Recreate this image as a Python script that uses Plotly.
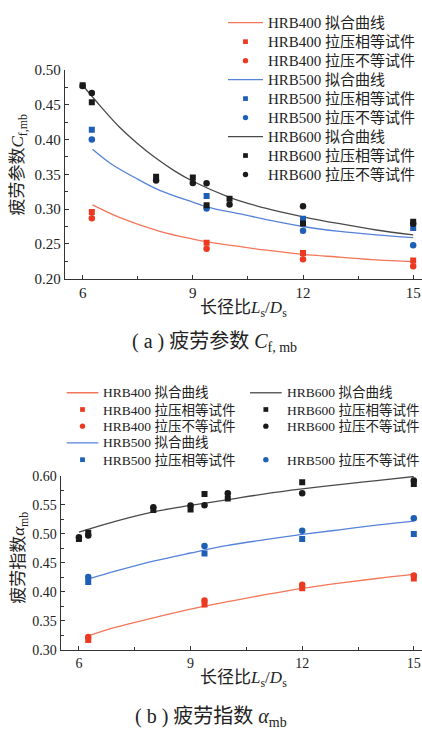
import plotly.graph_objects as go

W, H = 422, 738

# ---------------- data: (a) fatigue parameter C_f,mb ----------------
x_400_500 = [6.25, 9.375, 12, 15]
c400_eq = [0.296, 0.2515, 0.237, 0.226]
c400_ne = [0.287, 0.243, 0.228, 0.218]
c500_eq = [0.414, 0.319, 0.286, 0.273]
c500_ne = [0.400, 0.301, 0.269, 0.248]
x_600 = [6, 6.25, 8, 9, 9.375, 10, 12, 15]
c600_eq = [0.478, 0.4535, 0.3465, 0.3456, 0.3056, 0.315, 0.2795, 0.282]
c600_ne = [0.477, 0.467, 0.341, 0.3376, 0.337, 0.3066, 0.304, 0.279]

# fitted curves
fa400_x = [6.27, 7.0, 8.1, 9.0, 9.4, 10.3, 11, 12, 13, 14, 15]
fa400_y = [0.306, 0.288, 0.268, 0.257, 0.253, 0.246, 0.241, 0.235, 0.231, 0.227, 0.2245]
fa500_x = [6.27, 6.75, 7.5, 8.1, 9.0, 9.4, 10.3, 11, 12, 13, 14, 15]
fa500_y = [0.386, 0.366, 0.343, 0.327, 0.310, 0.303, 0.293, 0.285, 0.275, 0.268, 0.263, 0.259]
fa600_x = [6.0, 6.5, 7.0, 7.5, 8.0, 8.5, 9.0, 10.0, 11.0, 12.0, 13.0, 14.0, 15.0]
fa600_y = [0.478, 0.447, 0.418, 0.394, 0.373, 0.355, 0.340, 0.317, 0.301, 0.289, 0.279, 0.270, 0.263]

# ---------------- data: (b) fatigue exponent alpha_mb ----------------
a400_eq = [0.317, 0.378, 0.406, 0.423]
a400_ne = [0.322, 0.385, 0.412, 0.428]
a500_eq = [0.417, 0.466, 0.491, 0.500]
a500_ne = [0.4255, 0.479, 0.5055, 0.527]
a600_eq = [0.491, 0.502, 0.541, 0.542, 0.569, 0.561, 0.589, 0.586]
a600_ne = [0.494, 0.497, 0.546, 0.549, 0.5495, 0.570, 0.570, 0.592]

fb400_x = [6.25, 7, 8, 9, 10, 11, 12, 13, 14, 15]
fb400_y = [0.324, 0.339, 0.355, 0.370, 0.383, 0.395, 0.406, 0.415, 0.423, 0.430]
fb500_x = [6.25, 7, 8, 9, 10, 11, 12, 13, 14, 15]
fb500_y = [0.422, 0.436, 0.453, 0.467, 0.480, 0.490, 0.499, 0.507, 0.515, 0.522]
fb600_x = [6.0, 7, 8, 9, 10, 11, 12, 13, 14, 15]
fb600_y = [0.503, 0.522, 0.538, 0.549, 0.559, 0.569, 0.5775, 0.585, 0.592, 0.599]

xticks = [6, 9, 12, 15]

RED_M, RED_L = "#ec3a22", "#f27658"
BLU_M, BLU_L = "#1c5fb4", "#5683d8"
BLK_M, BLK_L = "#1a1a1a", "#4a4a4a"

SERIF = "Liberation Serif, Times New Roman, Noto Sans CJK SC, serif"
CJK = "Liberation Serif, Noto Sans CJK SC, serif"


def px(x):
    return x / W


def py(y):
    return 1 - y / H


fig = go.Figure()


def add_fit(x, y, color, xa, ya):
    fig.add_trace(go.Scatter(x=x, y=y, mode="lines", line=dict(color=color, width=1.3, shape="spline"),
                             xaxis=xa, yaxis=ya, showlegend=False, hoverinfo="skip"))


def add_pts(x, y, color, symbol, xa, ya):
    fig.add_trace(go.Scatter(x=x, y=y, mode="markers",
                             marker=dict(color=color, symbol=symbol, size=6.5 if symbol == "circle" else 6),
                             xaxis=xa, yaxis=ya, showlegend=False))


# (a)
add_fit(fa400_x, fa400_y, RED_L, "x", "y")
add_fit(fa500_x, fa500_y, BLU_L, "x", "y")
add_fit(fa600_x, fa600_y, BLK_L, "x", "y")
add_pts(x_400_500, c400_eq, RED_M, "square", "x", "y")
add_pts(x_400_500, c400_ne, RED_M, "circle", "x", "y")
add_pts(x_400_500, c500_eq, BLU_M, "square", "x", "y")
add_pts(x_400_500, c500_ne, BLU_M, "circle", "x", "y")
add_pts(x_600, c600_ne, BLK_M, "circle", "x", "y")
add_pts(x_600, c600_eq, BLK_M, "square", "x", "y")

# (b)
add_fit(fb400_x, fb400_y, RED_L, "x2", "y2")
add_fit(fb500_x, fb500_y, BLU_L, "x2", "y2")
add_fit(fb600_x, fb600_y, BLK_L, "x2", "y2")
add_pts(x_400_500, a400_eq, RED_M, "square", "x2", "y2")
add_pts(x_400_500, a400_ne, RED_M, "circle", "x2", "y2")
add_pts(x_400_500, a500_eq, BLU_M, "square", "x2", "y2")
add_pts(x_400_500, a500_ne, BLU_M, "circle", "x2", "y2")
add_pts(x_600, a600_ne, BLK_M, "circle", "x2", "y2")
add_pts(x_600, a600_eq, BLK_M, "square", "x2", "y2")

axis_common = dict(showline=True, linecolor="#333", linewidth=1.3, showgrid=False, zeroline=False,
                   ticks="inside", ticklen=4, tickwidth=1, tickcolor="#333")
minor_x = dict(ticks="inside", ticklen=3, tickwidth=1, tickcolor="#333", dtick=1.5, tick0=6)

fig.update_layout(
    width=W, height=H, margin=dict(l=0, r=0, t=0, b=0, pad=0),
    paper_bgcolor="white", plot_bgcolor="white", showlegend=False,
    xaxis=dict(domain=[px(65), 1], range=[5.52, 15.24], anchor="y", tickvals=xticks, minor=minor_x,
               tickfont=dict(family=SERIF, size=15, color="#222"), **axis_common),
    yaxis=dict(domain=[py(276.7), py(63.3)], range=[0.2, 0.5], anchor="x", dtick=0.05, tickformat=".2f",
               minor=dict(ticks="inside", ticklen=3, tickwidth=1, tickcolor="#333", dtick=0.025, tick0=0.2),
               tickfont=dict(family=SERIF, size=15, color="#222"), **axis_common),
    xaxis2=dict(domain=[px(60.7), 1], range=[5.51, 15.22], anchor="y2", tickvals=xticks, minor=minor_x,
                tickfont=dict(family=SERIF, size=14, color="#222"), **axis_common),
    yaxis2=dict(domain=[py(656), py(478.3)], range=[0.3, 0.6], anchor="x2", dtick=0.05, tickformat=".2f",
                minor=dict(ticks="inside", ticklen=3, tickwidth=1, tickcolor="#333", dtick=0.025, tick0=0.3),
                tickfont=dict(family=SERIF, size=14, color="#222"), **axis_common),
)

annotations = []
shapes = []


def text(x, y, s, size, angle=0, xanchor="center"):
    annotations.append(dict(x=px(x), y=py(y), xref="paper", yref="paper", text=s, showarrow=False,
                            xanchor=xanchor, yanchor="middle", textangle=angle,
                            font=dict(family=CJK, size=size, color="#222")))


# axis titles and captions
text(243, 308, "长径比<i>L</i><sub>s</sub>/<i>D</i><sub>s</sub>", 17)
text(19, 160, "疲劳参数<i>C</i><sub>f,mb</sub>", 17, angle=-90)
text(214, 342, "( a ) 疲劳参数 <i>C</i><sub>f, mb</sub>", 20)
text(243, 686, "长径比<i>L</i><sub>s</sub>/<i>D</i><sub>s</sub>", 17)
text(20, 562, "疲劳指数<i>α</i><sub>mb</sub>", 17, angle=-90)
text(211, 725, "( b ) 疲劳指数 <i>α</i><sub>mb</sub>", 20)


def legend_item(kind, color, lx0, lx1, ty, label, size):
    cx = (lx0 + lx1) / 2
    if kind == "line":
        shapes.append(dict(type="line", xref="paper", yref="paper", x0=px(lx0), x1=px(lx1),
                           y0=py(ty), y1=py(ty), line=dict(color=color, width=1.3)))
    elif kind == "square":
        shapes.append(dict(type="rect", xref="paper", yref="paper", x0=px(cx - 2.4), x1=px(cx + 2.4),
                           y0=py(ty + 2.4), y1=py(ty - 2.4), fillcolor=color, line=dict(width=0)))
    else:
        shapes.append(dict(type="circle", xref="paper", yref="paper", x0=px(cx - 2.7), x1=px(cx + 2.7),
                           y0=py(ty + 2.7), y1=py(ty - 2.7), fillcolor=color, line=dict(width=0)))
    text(lx1 + 3, ty, label, size, xanchor="left")


entries = [
    ("line", RED_L, "HRB400 拟合曲线"),
    ("square", RED_M, "HRB400 拉压相等试件"),
    ("circle", RED_M, "HRB400 拉压不等试件"),
    ("line", BLU_L, "HRB500 拟合曲线"),
    ("square", BLU_M, "HRB500 拉压相等试件"),
    ("circle", BLU_M, "HRB500 拉压不等试件"),
    ("line", BLK_L, "HRB600 拟合曲线"),
    ("square", BLK_M, "HRB600 拉压相等试件"),
    ("circle", BLK_M, "HRB600 拉压不等试件"),
]

# legend (a): single column
for i, (k, c, lab) in enumerate(entries):
    legend_item(k, c, 228, 263, 15 + i * 19.4, lab, 15)

# legend (b): two columns
col1 = [entries[0], entries[1], entries[2], entries[3], entries[4]]
for i, (k, c, lab) in enumerate(col1):
    legend_item(k, c, 66.7, 98.3, 393.3 + i * 17.1, lab, 13.5)
col2 = [(0, entries[6]), (1, entries[7]), (2, entries[8]), (4, entries[5])]
for i, (k, c, lab) in col2:
    legend_item(k, c, 250, 281.7, 393.3 + i * 17.1, lab, 13.5)

fig.update_layout(annotations=annotations, shapes=shapes)
fig.write_html("out.html", config={"displayModeBar": False},
               post_script="document.body.style.margin='0';document.body.style.overflow='hidden';")
